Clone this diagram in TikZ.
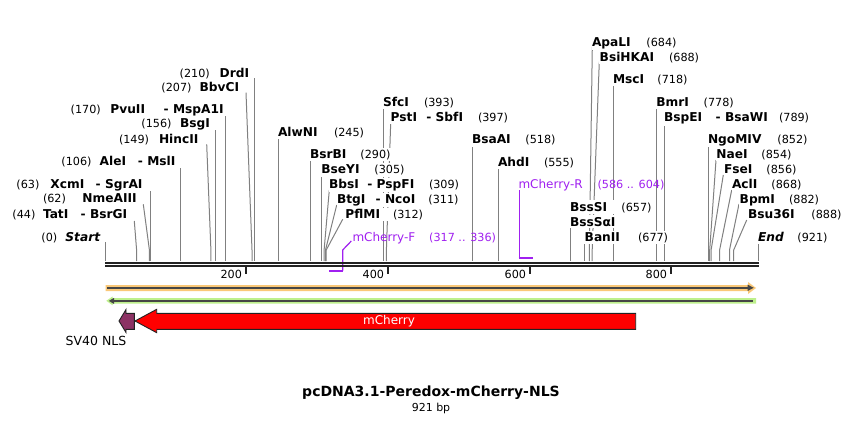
\documentclass[tikz,border=0pt]{standalone}
\usepackage{fontspec}
\setmainfont{DejaVu Sans}
\definecolor{bb}{RGB}{34,34,34}
\definecolor{enzl}{RGB}{128,128,128}
\definecolor{prim}{RGB}{160,32,240}
\definecolor{orL}{RGB}{250,200,120}
\definecolor{grL}{RGB}{190,240,140}
\definecolor{dk}{RGB}{70,70,70}
\definecolor{nlsc}{RGB}{140,50,100}
\newcommand\EnzF{\fontsize{12.2}{14}\selectfont\bfseries}
\newcommand\PosF{\fontsize{11.2}{13}\selectfont\mdseries}
\newcommand\PrF{\fontsize{12}{14}\selectfont\mdseries}
\newcommand\EnzB[2]{\makebox[#1pt][l]{\EnzF #2}}
\newcommand\PosB[2]{\makebox[#1pt][l]{\PosF #2}}
\begin{document}
\begin{tikzpicture}[x=1pt,y=-1pt,
  lab/.style={anchor=base west, inner xsep=0.5pt, inner ysep=1.5pt, fill=white},
  plab/.style={anchor=base west, inner sep=0pt, text=prim},
  enz/.style={draw=enzl, line width=1pt},
  primline/.style={draw=prim, line width=1.2pt},
  tickl/.style={anchor=base east, inner sep=0pt, font=\PosF}]
\useasboundingbox (0,0) rectangle (864,424);
\fill[white] (0,0) rectangle (864,424);

% enzyme lines
\draw[enz] (105.5,242)--(105.5,261);
\draw[enz] (134.3,221)--(136.6,250)--(136.6,261);
\draw[enz] (143.3,204.3)--(149.4,250)--(149.4,261);
\draw[enz] (150.3,191)--(150.3,261);
\draw[enz] (180.5,168)--(180.5,261);
\draw[enz] (206.7,144.3)--(210.9,250)--(210.9,261);
\draw[enz] (215.6,130)--(215.6,261);
\draw[enz] (225.8,116)--(225.8,261);
\draw[enz] (246,92.7)--(252,250)--(252,261);
\draw[enz] (254.2,78.3)--(254.2,261);
\draw[enz] (278.5,137.3)--(278.5,261);
\draw[enz] (310.5,160)--(310.5,261);
\draw[enz] (321.5,175)--(321.5,261);
\draw[enz] (329.3,190)--(324.1,250)--(324.1,261);
\draw[enz] (336.7,205)--(325.5,250)--(325.5,261);
\draw[enz] (342.7,219.3)--(326.2,250)--(326.2,261);
\draw[enz] (383.4,107.7)--(383.4,261);
\draw[enz] (390.7,122.7)--(386.4,250)--(386.4,261);
\draw[enz] (472.2,145)--(472.2,261);
\draw[enz] (498.2,168.3)--(498.2,261);
\draw[enz] (592.3,46.7)--(589.4,250)--(589.4,261);
\draw[enz] (599.3,61.7)--(592.2,250)--(592.2,261);
\draw[enz] (613.4,85)--(613.4,261);
\draw[enz] (656.3,108.3)--(656.3,261);
\draw[enz] (664,123.3)--(664,261);
\draw[enz] (708.3,145)--(708.3,261);
\draw[enz] (716,160)--(709.7,250)--(709.7,261);
\draw[enz] (723.3,175)--(711.1,250)--(711.1,261);
\draw[enz] (731.7,190)--(719.6,250)--(719.6,261);
\draw[enz] (739,204)--(729.5,250)--(729.5,261);
\draw[enz] (746.7,220)--(733.7,250)--(733.7,261);
\draw[enz] (758.3,241.7)--(758.3,261);
\draw[enz] (570.3,227.7)--(570.3,261);
\draw[enz] (584.5,241.7)--(584.5,261);

% primer lines
\draw[primline] (351.3,241)--(342.7,250)--(342.7,270.7);
\draw[draw=prim, line width=2pt] (342.7,270.7)--(329.3,270.7);
\draw[primline] (519.3,190)--(519.3,257.5);
\draw[draw=prim, line width=2pt] (518.7,258.3)--(532.8,258.3);

% left labels
\node[lab] (l0) at (40.7,241.8) {\PosB{24}{(0)}{\EnzF\itshape Start}};
\node[lab] (l44) at (11.7,218.6) {\PosB{30.6}{(44)}\EnzB{37.7}{TatI}{\EnzF - BsrGI}};
\node[lab] (l62) at (42.3,202) {\PosB{39.4}{(62)}{\EnzF NmeAIII}};
\node[lab] (l63) at (15.7,188.6) {\PosB{34}{(63)}\EnzB{45.3}{XcmI}{\EnzF - SgrAI}};
\node[lab] (l106) at (60.7,165.3) {\PosB{38.3}{(106)}\EnzB{38.3}{AleI}{\EnzF - MslI}};
\node[lab] (l149) at (118.3,143.3) {\PosB{40}{(149)}{\EnzF HincII}};
\node[lab] (l156) at (140.7,127.6) {\PosB{38.6}{(156)}{\EnzF BsgI}};
\node[lab] (l170) at (70,113.6) {\PosB{39.7}{(170)}\EnzB{53.3}{PvuII}{\EnzF - MspA1I}};
\node[lab] (l207) at (160.7,91) {\PosB{38.3}{(207)}{\EnzF BbvCI}};
\node[lab] (l210) at (179,77) {\PosB{40}{(210)}{\EnzF DrdI}};

% right labels
\node[lab] (r245) at (277.3,136) {\EnzB{56}{AlwNI}{\PosF(245)}};
\node[lab] (r290) at (309.3,158.3) {\EnzB{50.4}{BsrBI}{\PosF(290)}};
\node[lab] (r305) at (320.7,173.6) {\EnzB{53}{BseYI}{\PosF(305)}};
\node[lab] (r309) at (328.3,188.3) {\EnzB{38.4}{BbsI}\EnzB{61.6}{- PspFI}{\PosF(309)}};
\node[lab] (r311) at (336.3,203) {\EnzB{38.7}{BtgI}\EnzB{52.7}{- NcoI}{\PosF(311)}};
\node[lab] (r312) at (344.7,218.3) {\EnzB{47.6}{PflMI}{\PosF(312)}};
\node[lab] (r393) at (382.3,106) {\EnzB{41}{SfcI}{\PosF(393)}};
\node[lab] (r397) at (390,121) {\EnzB{35.7}{PstI}\EnzB{51.6}{- SbfI}{\PosF(397)}};
\node[lab] (r518) at (471.3,143.6) {\EnzB{53.4}{BsaAI}{\PosF(518)}};
\node[lab] (r555) at (497.3,166) {\EnzB{46}{AhdI}{\PosF(555)}};
\node[lab] (r684) at (591.3,46.3) {\EnzB{54.4}{ApaLI}{\PosF(684)}};
\node[lab] (r688) at (599,61) {\EnzB{69.3}{BsiHKAI}{\PosF(688)}};
\node[lab] (r718) at (612.3,83.3) {\EnzB{44.4}{MscI}{\PosF(718)}};
\node[lab] (r778) at (655.7,106) {\EnzB{47.3}{BmrI}{\PosF(778)}};
\node[lab] (r789) at (663.3,121.6) {\EnzB{51.7}{BspEI}\EnzB{63.3}{- BsaWI}{\PosF(789)}};
\node[lab] (r852) at (707.3,143) {\EnzB{69.4}{NgoMIV}{\PosF(852)}};
\node[lab] (r854) at (715.7,158.3) {\EnzB{45}{NaeI}{\PosF(854)}};
\node[lab] (r856) at (723.3,173.3) {\EnzB{42.4}{FseI}{\PosF(856)}};
\node[lab] (r868) at (731.3,188.3) {\EnzB{39.4}{AclI}{\PosF(868)}};
\node[lab] (r882) at (739,203.3) {\EnzB{49.3}{BpmI}{\PosF(882)}};
\node[lab] (r888) at (747.3,218.3) {\EnzB{63.4}{Bsu36I}{\PosF(888)}};
\node[lab] (r921) at (757.3,241) {\makebox[39.4pt][l]{\EnzF\itshape End}{\PosF(921)}};
\node[lab] (r657) at (569.3,211) {\EnzB{51.4}{BssSI}{\PosF(657)}};
\node[lab] (r657b) at (569.3,226) {\EnzF BssSαI};
\node[lab] (r677) at (584,241) {\EnzB{53.3}{BanII}{\PosF(677)}};

% primer labels
\node[plab] (pF) at (352.3,241) {\makebox[76.7pt][l]{\PrF mCherry-F}{\PosF(317 .. 336)}};
\node[plab] (pR) at (518.3,188.3) {\makebox[79pt][l]{\PrF mCherry-R}{\PosF(586 .. 604)}};

% backbone
\draw[bb, line width=2.4pt] (105,262.8)--(758.8,262.8);
\draw[bb, line width=2pt] (105,266.3)--(758.8,266.3);
\foreach \tx/\tl in {246/200,388/400,530/600,671/800}{
  \draw[bb, line width=2pt] (\tx,266)--(\tx,274);
  \node[tickl] (t\tl) at (\tx-3.8,278.2) {\tl};
}

% orange feature
\fill[orL] (105.5,285)--(748,285)--(748,282)--(756,288)--(748,294)--(748,291)--(105.5,291)--cycle;
\draw[dk, line width=2pt] (107,287.8)--(749,287.8);
\fill[dk] (747.5,284.6)--(753.8,287.8)--(747.5,291)--cycle;

% green feature
\fill[grL] (106.3,300.8)--(112.5,296.5)--(112.5,298.2)--(756,298.2)--(756,303.6)--(112.5,303.6)--(112.5,305.2)--cycle;
\draw[dk, line width=2pt] (112,300.9)--(753.3,300.9);
\fill[dk] (108.8,300.9)--(114,297.9)--(114,303.9)--cycle;

% mCherry arrow
\draw[fill=red, draw=bb, line width=0.9pt] (135,321)--(156.7,309.3)--(156.7,313.3)--(635.7,313.3)--(635.7,329.3)--(156.7,329.3)--(156.7,332.7)--cycle;
\node[text=white, font=\PrF, inner sep=0pt] (mch) at (389,321) {mCherry};

% SV40 NLS
\draw[fill=nlsc, draw=bb, line width=0.9pt] (119,321)--(126,309.5)--(126,313.3)--(134.3,313.3)--(134.3,329.3)--(126,329.3)--(126,332.5)--cycle;
\node[anchor=base west, inner sep=0pt, font=\fontsize{12.5}{14}\selectfont] (nls) at (65.5,345.5) {SV40 NLS};

% title
\node[inner sep=0pt, font=\fontsize{14}{16}\selectfont\bfseries] (title) at (431,393) {pcDNA3.1-Peredox-mCherry-NLS};
\node[inner sep=0pt, font=\fontsize{11}{13}\selectfont] (bp) at (431,408.5) {921 bp};
\end{tikzpicture}
\end{document}
